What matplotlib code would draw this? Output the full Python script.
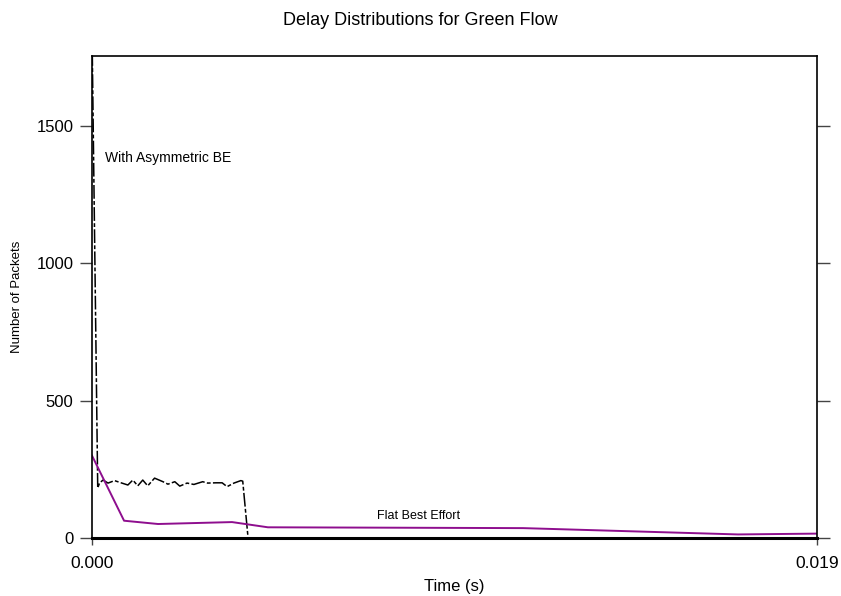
import matplotlib
matplotlib.use("Agg")
from matplotlib import pyplot as plt

plt.rcParams['font.family'] = ['Liberation Sans', 'DejaVu Sans']

# delay histogram, flat best effort (bin centre in s, packet count)
flat_time = [0.0, 0.00084, 0.00173, 0.00367, 0.00461, 0.01130, 0.01693, 0.0190]
flat_count = [300, 63, 51, 58, 39, 36, 13, 16]

# delay histogram with asymmetric best effort
asym_time = [0.0, 0.00015, 0.00020, 0.00029, 0.00042, 0.00059, 0.00076, 0.00094,
             0.00107, 0.00120, 0.00133, 0.00146, 0.00164, 0.00186, 0.00199,
             0.00217, 0.00230, 0.00249, 0.00267, 0.00290, 0.00303, 0.00325,
             0.00341, 0.00354, 0.00372, 0.00390, 0.00395, 0.00409]
asym_count = [1850, 182, 201, 211, 200, 209, 201, 193, 211, 190, 211, 190,
              218, 205, 196, 205, 189, 200, 195, 205, 200, 201, 201, 187,
              200, 209, 207, 0]

y_ticks = [0, 500, 1000, 1500]
x_ticks = [0.0, 0.019]
x_tick_labels = ["0.000", "0.019"]

fig = plt.figure(figsize=(8.41, 5.96), dpi=100)
ax = fig.add_axes([0.1094, 0.0973, 0.8621, 0.8087])

ax.plot(asym_time, asym_count, color='black', lw=1.1,
        linestyle=(0, (9, 1.5, 2.5, 1.5)))
ax.plot(flat_time, flat_count, color='#8e0e8e', lw=1.4)

ax.text(0.00034, 1384, "With Asymmetric BE", fontsize=10, va='center')
ax.text(0.00747, 81, "Flat Best Effort", fontsize=9, va='center')

ax.set_xlim(0, 0.019)
ax.set_ylim(0, 1755)
ax.set_xticks(x_ticks)
ax.set_xticklabels(x_tick_labels)
ax.set_yticks(y_ticks)
ax.tick_params(axis='y', which='both', direction='out', length=9, width=1,
               color='#444444', left=True, right=True, labelsize=12, pad=4.5)
ax.tick_params(axis='x', direction='out', length=5, width=1, color='#444444',
               labelsize=12.5, pad=8)

for side in ['left', 'right', 'top']:
    ax.spines[side].set_linewidth(1.2)
ax.spines['bottom'].set_linewidth(2.2)

ax.set_xlabel("Time (s)", fontsize=12, labelpad=6)
ax.set_ylabel("Number of Packets", fontsize=9.5)
ax.yaxis.set_label_coords(-0.095, 0.5)
fig.suptitle("Delay Distributions for Green Flow", fontsize=13, y=0.98)

fig.savefig("out.png", dpi=100)
